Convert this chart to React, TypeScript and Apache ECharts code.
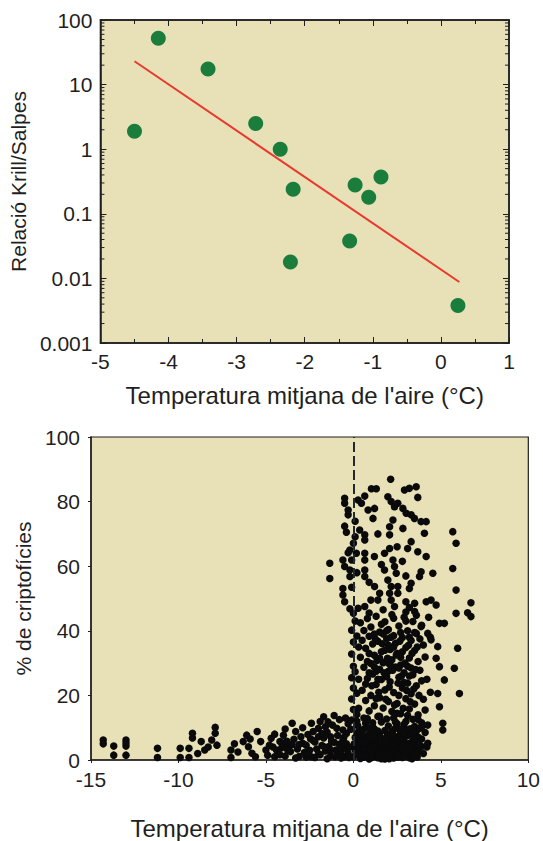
import React, { useEffect, useRef } from "react";
import * as echarts from "echarts";

// ---------- Top chart: krill / salps ratio vs mean air temperature ----------
const krillTemps = [-4.5, -4.15, -3.42, -2.72, -2.36, -2.17, -2.21, -1.34, -1.26, -1.06, -0.88, 0.25];
const krillRatios = [1.9, 52, 17.5, 2.5, 1.0, 0.24, 0.018, 0.038, 0.28, 0.18, 0.37, 0.0038];
const fitTemps = [-4.5, 0.27];
const fitRatios = [23, 0.0088];
const topXTicks = [-5, -4, -3, -2, -1, 0, 1];
const topYTicks = ["0.001", "0.01", "0.1", "1", "10", "100"];
const logMinorMultipliers = [2, 3, 4, 5, 6, 7, 8, 9];
const logDecades = [0.001, 0.01, 0.1, 1, 10];

// ---------- Bottom chart: % cryptophytes vs mean air temperature ----------
const coldTail = [
  [-14.3, 6.2], [-14.3, 5.0], [-13.7, 4.3], [-13.7, 1.5], [-13.0, 6.2], [-13.0, 4.3], [-13.0, 1.5], [-13.0, 5.3],
  [-11.2, 3.6], [-11.2, 0.8], [-9.9, 3.6], [-9.9, 0.8], [-9.4, 3.6], [-9.4, 0.8], [-9.2, 8.3], [-9.2, 6.8],
  [-8.7, 5.7], [-8.5, 3.1], [-8.1, 6.2], [-7.9, 10.1], [-7.9, 8.3], [-7.8, 4.6], [-7.0, 3.1], [-7.0, 0.8],
  [-6.3, 5.7], [-6.1, 7.7], [-6.0, 4.1], [-5.8, 2.1], [-5.5, 8.8], [-5.3, 5.7], [-5.0, 3.1], [-8.9, 2.0],
  [-8.3, 4.0], [-6.6, 2.5], [-6.8, 5.0], [-5.6, 1.0], [-5.9, 6.5],
];
const subzeroBand = [
  [-4.7, 6.7], [-4.4, 3.1], [-4.2, 5.7], [-4.0, 7.7], [-3.7, 4.1], [-3.5, 11.4], [-3.3, 8.8], [-3.0, 7.2],
  [-2.7, 4.6], [-2.4, 11.4], [-2.3, 8.8], [-2.0, 7.2], [-1.7, 13.4], [-1.6, 10.3], [-1.3, 7.2],
  [-4.9, 1.5], [-4.6, 4.0], [-4.5, 1.0], [-4.3, 2.2], [-4.1, 3.8], [-3.9, 1.2], [-3.8, 5.8], [-3.6, 2.6],
  [-3.4, 6.4], [-3.2, 3.4], [-3.1, 1.1], [-2.9, 5.2], [-2.8, 2.3], [-2.6, 7.9], [-2.5, 3.0], [-2.4, 1.0],
  [-2.2, 5.6], [-2.1, 3.4], [-2.0, 9.8], [-1.9, 1.6], [-1.8, 4.5], [-1.7, 6.8], [-1.6, 2.8], [-1.5, 8.6],
  [-1.4, 4.2], [-1.3, 1.3], [-1.2, 10.8], [-1.1, 5.5], [-1.0, 3.1], [-0.9, 7.6], [-0.9, 1.8], [-0.8, 12.5],
  [-0.8, 4.9], [-0.7, 2.6], [-0.6, 9.3], [-0.6, 6.1], [-0.5, 3.7], [-0.5, 1.0], [-0.4, 8.2], [-0.4, 5.0],
  [-0.3, 2.1], [-0.3, 11.2], [-3.9, 9.6], [-4.5, 8.0], [-2.9, 10.0], [-2.3, 6.0], [-1.9, 11.9], [-1.1, 13.8],
  [-3.3, 0.6], [-2.7, 0.9], [-1.5, 0.4], [-0.7, 0.6], [-4.8, 4.6], [-1.3, 3.0], [-2.0, 2.0],
];
const subzeroExtra = [
  [-4.2, 1.6], [-3.75, 3.0], [-3.1, 4.8], [-2.6, 2.0], [-2.2, 0.8], [-1.8, 8.2], [-1.25, 5.8], [-0.95, 9.8],
  [-0.55, 7.0], [-0.2, 4.0], [-0.15, 9.5], [-0.25, 0.8], [-1.65, 4.0], [-2.45, 6.6], [-3.5, 4.8], [-4.0, 5.2],
  [-0.75, 3.8], [-1.05, 1.0], [-1.45, 11.8], [-0.45, 13.0],
];
const thawBand = [
  [0.0, 1.0], [0.1, 3.2], [0.2, 5.6], [0.2, 8.4], [0.3, 1.8], [0.4, 4.3], [0.4, 0.5], [0.5, 6.9], [0.5, 2.7],
  [0.6, 9.5], [0.6, 0.9], [0.7, 4.8], [0.7, 3.0], [0.8, 7.6], [0.8, 1.4], [0.9, 5.5], [0.9, 0.3], [1.0, 2.6],
  [1.0, 8.8], [1.1, 4.1], [1.1, 6.3], [1.2, 1.2], [1.2, 9.6], [1.3, 3.5], [1.3, 7.1], [1.4, 0.7], [1.4, 5.2],
  [1.5, 2.3], [1.5, 8.2], [1.6, 4.4], [1.6, 0.4], [1.7, 6.6], [1.7, 1.9], [1.8, 3.8], [1.8, 9.1], [1.9, 5.7],
  [1.9, 0.9], [2.0, 2.8], [2.0, 7.4], [2.1, 4.6], [2.1, 1.3], [2.2, 8.8], [2.2, 3.3], [2.3, 6.1], [2.3, 0.6],
  [2.4, 2.2], [2.4, 9.8], [2.5, 4.9], [2.5, 7.2], [2.6, 1.6], [2.6, 3.8], [2.7, 5.8], [2.7, 8.5], [2.8, 0.8],
  [2.8, 2.9], [2.9, 6.7], [2.9, 4.3], [3.0, 1.9], [3.0, 9.4], [3.1, 3.1], [3.1, 7.6], [3.2, 5.2], [3.2, 0.7],
  [3.3, 2.4], [3.3, 8.3], [3.4, 4.0], [3.4, 6.2], [3.5, 1.4], [3.5, 3.5], [3.6, 5.4], [3.6, 9.0], [3.7, 2.6],
  [3.7, 7.1], [0.3, 6.4], [0.6, 3.6], [0.9, 1.8], [1.2, 6.8], [1.5, 3.0], [1.8, 1.2], [2.1, 6.0], [2.4, 4.0],
  [2.7, 2.0], [3.0, 5.0], [3.3, 3.2], [0.1, 7.0], [0.4, 9.2], [1.0, 4.8], [1.4, 9.0], [2.0, 5.0], [2.6, 6.8],
  [3.4, 1.0], [3.9, 4.2], [3.9, 6.5], [4.0, 2.0],
];
const thawExtra = [
  [0.15, 2.1], [0.35, 4.9], [0.55, 1.2], [0.75, 6.0], [0.95, 3.4], [1.15, 8.0], [1.35, 2.0], [1.55, 5.9],
  [1.75, 4.2], [1.95, 7.9], [2.15, 2.4], [2.35, 5.2], [2.55, 0.9], [2.75, 3.6], [2.95, 8.9], [3.15, 4.6],
  [3.35, 0.4], [3.55, 6.8], [3.75, 4.8], [0.25, 10.6], [0.7, 11.4], [1.1, 10.2], [1.6, 11.8], [2.0, 10.5],
  [2.5, 11.2], [3.0, 11.9], [3.5, 10.4], [3.8, 9.8], [0.05, 5.0], [0.45, 7.8], [0.85, 9.9], [1.25, 4.6],
  [1.65, 2.9], [2.05, 0.4], [2.45, 6.6], [2.85, 5.1], [3.25, 9.7], [3.65, 0.9], [1.45, 1.5], [2.25, 8.0],
  [3.05, 2.7], [0.65, 5.2], [1.85, 6.3], [2.65, 9.6], [3.45, 8.6], [0.3, 3.8], [1.05, 0.8], [1.8, 0.3],
  [2.9, 1.2], [3.6, 2.0], [4.1, 8.5], [4.2, 4.0], [3.95, 10.5], [0.8, 12.8], [1.5, 13.5], [2.3, 13.0],
  [3.1, 13.8], [3.7, 12.5], [0.2, 12.0],
];
const zeroColumn = [
  [-0.5, 81.0], [-0.5, 79.5], [-0.3, 77.4], [-0.3, 75.9], [-0.5, 72.4], [0.1, 69.1], [0.0, 67.1], [-0.1, 61.9],
  [-0.2, 58.8], [-0.2, 56.8], [-0.6, 61.9], [-0.5, 59.9], [-1.35, 60.9], [-1.35, 56.2], [-0.6, 53.1], [-0.6, 51.1],
  [-0.5, 49.0], [0.0, 45.4], [-0.1, 40.2], [0.0, 36.5], [-0.1, 32.8], [0.0, 29.0], [-0.1, 25.5], [0.0, 22.3],
  [-0.1, 18.9], [0.0, 15.6], [-0.1, 12.4], [0.1, 43.0], [0.2, 38.4], [0.1, 27.3], [0.2, 20.7], [0.2, 14.1],
  [-0.2, 65.0], [-0.4, 70.5], [0.1, 73.9], [-0.2, 46.8], [-0.1, 53.5], [0.2, 58.0], [-0.3, 64.2],
];
const midCloud = [
  [0.4, 42.5], [0.6, 40.1], [0.8, 43.8], [1.0, 41.2], [1.3, 44.5], [1.5, 39.6], [1.8, 42.8], [2.0, 40.4],
  [2.3, 43.9], [2.6, 41.5], [2.9, 44.2], [3.1, 40.0], [3.4, 42.9], [3.6, 39.2], [3.9, 41.7], [0.5, 37.1],
  [0.7, 34.6], [0.9, 38.3], [1.1, 35.9], [1.2, 32.4], [1.4, 36.8], [1.6, 33.5], [1.7, 30.1], [1.9, 37.5],
  [2.1, 34.2], [2.2, 31.0], [2.4, 36.1], [2.5, 33.0], [2.7, 29.4], [2.8, 37.9], [3.0, 34.8], [3.2, 31.6],
  [3.3, 37.0], [3.5, 33.9], [3.7, 30.5], [4.0, 35.6], [4.1, 31.9], [0.4, 31.8], [0.6, 28.7], [0.8, 25.2],
  [1.0, 29.9], [1.1, 26.6], [1.3, 23.4], [1.5, 28.1], [1.6, 24.9], [1.8, 21.7], [2.0, 27.5], [2.1, 24.2],
  [2.3, 20.9], [2.4, 28.8], [2.6, 25.6], [2.8, 22.3], [2.9, 27.0], [3.1, 23.8], [3.3, 20.5], [3.4, 26.4],
  [3.6, 23.0], [3.8, 27.8], [3.9, 24.5], [0.5, 21.6], [0.7, 18.4], [0.9, 15.2], [1.0, 20.0], [1.2, 16.8],
  [1.4, 13.5], [1.5, 19.3], [1.7, 16.1], [1.9, 12.7], [2.0, 18.1], [2.2, 15.0], [2.4, 11.8], [2.5, 17.5],
  [2.7, 14.3], [2.9, 11.1], [3.0, 19.0], [3.2, 15.8], [3.4, 12.6], [3.5, 17.3], [3.7, 14.0], [3.9, 11.5],
  [4.0, 18.8], [0.3, 16.0], [0.3, 25.0], [0.3, 35.0], [0.8, 30.5], [1.3, 27.5], [1.8, 34.0], [2.3, 38.5],
  [2.8, 33.5], [3.3, 28.5], [3.8, 37.5], [1.2, 39.0], [2.0, 30.0], [2.6, 20.0], [3.2, 26.0], [1.6, 42.0],
  [2.2, 45.0], [3.0, 43.0], [4.3, 44.2], [4.4, 38.0], [4.2, 25.0], [4.4, 21.0], [4.1, 15.5], [0.6, 13.0],
  [1.1, 11.5], [3.6, 44.8], [0.9, 45.5], [1.9, 25.8], [2.7, 31.8],
];
const midExtra = [
  [0.9, 33.0], [1.05, 23.0], [1.25, 37.5], [1.35, 30.8], [1.45, 21.0], [1.65, 36.0], [1.75, 27.0], [1.85, 18.8],
  [1.95, 31.5], [2.05, 22.6], [2.15, 38.0], [2.25, 27.8], [2.35, 17.0], [2.45, 32.5], [2.55, 23.8], [2.65, 36.8],
  [2.75, 26.0], [2.85, 16.0], [2.95, 30.0], [3.05, 21.5], [3.15, 35.5], [3.25, 18.0], [3.35, 33.0], [3.45, 22.0],
  [3.55, 28.0], [3.65, 35.0], [3.75, 20.0], [1.5, 31.5], [1.2, 28.8], [2.3, 35.0], [2.7, 39.5], [1.9, 40.0],
  [2.5, 14.5], [1.3, 19.0], [3.1, 29.0], [0.7, 23.5], [0.9, 27.0], [1.7, 39.0], [2.1, 29.5], [2.9, 24.0],
  [3.5, 39.5], [1.4, 25.0], [2.0, 35.5], [2.6, 28.5], [3.2, 38.0],
];
const upperCloud = [
  [2.13, 86.9], [1.03, 84.0], [1.31, 84.0], [0.65, 81.7], [0.27, 80.5], [0.46, 79.5], [0.84, 77.4], [1.12, 74.8],
  [1.21, 77.9], [1.97, 81.5], [2.16, 80.0], [2.35, 78.4], [2.54, 79.5], [2.83, 77.9], [2.92, 83.6], [3.2, 84.1],
  [3.59, 84.6], [3.68, 81.3], [3.02, 76.4], [3.3, 75.9], [3.49, 74.8], [3.87, 73.8], [4.16, 73.8], [2.07, 72.2],
  [2.07, 69.7], [2.26, 74.3], [2.83, 71.7], [4.06, 70.2], [3.3, 67.6], [0.36, 71.2], [0.65, 69.7], [0.65, 68.1],
  [2.07, 65.5], [1.78, 64.0], [3.68, 64.5], [4.16, 63.0], [0.65, 64.0], [0.65, 61.9], [0.65, 58.8], [0.65, 56.8],
  [0.17, 64.0], [2.26, 61.9], [2.35, 59.9], [2.45, 57.8], [1.78, 58.8], [1.97, 55.7], [2.16, 53.7], [2.54, 53.7],
  [2.54, 51.6], [1.21, 53.7], [1.5, 51.6], [1.4, 49.5], [0.27, 47.0], [0.65, 47.5], [2.07, 51.6], [2.16, 49.5],
  [2.35, 47.5], [3.87, 58.3], [3.78, 56.8], [3.3, 54.7], [3.2, 53.1], [4.54, 57.8], [4.73, 48.0], [4.44, 49.5],
  [4.16, 49.0], [3.0, 49.0], [3.2, 47.2], [3.5, 48.5], [3.0, 45.8], [3.5, 46.0], [1.0, 49.5], [1.7, 46.5],
  [2.8, 61.5], [3.0, 57.0], [1.4, 70.0], [1.6, 60.5], [0.9, 55.0], [2.5, 66.0], [3.1, 65.5], [1.2, 63.0],
];
const warmOutliers = [
  [5.68, 70.7], [5.87, 67.1], [5.68, 59.3], [5.87, 52.6], [6.72, 48.7], [6.72, 44.4], [6.53, 45.6], [5.87, 45.4],
  [5.96, 34.6], [5.77, 28.4], [6.06, 20.6], [4.92, 42.3], [5.2, 42.3], [3.87, 41.3], [4.25, 39.2], [4.44, 37.2],
  [4.82, 35.1], [4.73, 31.5], [4.92, 28.9], [5.2, 24.8], [4.82, 20.6], [4.92, 16.5], [5.11, 11.4], [5.11, 9.3],
  [4.25, 5.2], [4.25, 10.8],
];
const bottomXTicks = [-15, -10, -5, 0, 5, 10];
const bottomYTicks = [0, 20, 40, 60, 80, 100];

const FONT = "'Liberation Sans', Arial, Helvetica, sans-serif";
const BG = "#e8e1b8";
const INK = "#1f1f1f";

export default function App() {
  const ref = useRef<HTMLDivElement>(null);

  useEffect(() => {
    document.body.style.margin = "0";
    const chart = echarts.init(ref.current!, null, { renderer: "svg" });

    const krillData = krillTemps.map((t, i) => [t, krillRatios[i]]);
    const fitData = fitTemps.map((t, i) => [t, fitRatios[i]]);
    const minorLogTicks: number[] = [];
    logDecades.forEach((d) => logMinorMultipliers.forEach((m) => minorLogTicks.push(+(d * m).toPrecision(3))));
    const cryptoData = [
      ...coldTail, ...subzeroBand, ...subzeroExtra, ...thawBand, ...thawExtra,
      ...zeroColumn, ...midCloud, ...midExtra, ...upperCloud, ...warmOutliers,
    ];

    const labelStyle = { fontSize: 21, color: INK, fontFamily: FONT };
    const xNameStyle = { fontSize: 24, color: INK, fontFamily: FONT };
    const yNameStyle = { fontSize: 21, color: INK, fontFamily: FONT };

    chart.setOption({
      animation: false,
      backgroundColor: "#ffffff",
      grid: [
        { left: 87, top: 20, width: 422, height: 323, show: true, backgroundColor: BG, borderColor: INK, borderWidth: 1.5 },
        { left: 91, top: 437, width: 439, height: 323, show: true, backgroundColor: BG, borderColor: INK, borderWidth: 1.2 },
      ],
      xAxis: [
        {
          gridIndex: 0, type: "value", min: topXTicks[0], max: topXTicks[topXTicks.length - 1], interval: 1,
          position: "bottom",
          axisLine: { show: true, onZero: false, lineStyle: { color: INK, width: 1.5 } },
          axisTick: { show: true, inside: true, length: 6, lineStyle: { color: INK } },
          minorTick: { show: true, splitNumber: 2, length: 4, lineStyle: { color: INK } },
          axisLabel: { ...labelStyle, margin: 8 },
          splitLine: { show: false },
          name: "Temperatura mitjana de l'aire (°C)", nameLocation: "middle", nameGap: 40, nameTextStyle: xNameStyle,
        },
        {
          gridIndex: 0, type: "value", min: -5, max: 1, interval: 1, position: "top",
          axisLine: { show: true, onZero: false, lineStyle: { color: INK, width: 1.5 } },
          axisTick: { show: true, inside: true, length: 6, lineStyle: { color: INK } },
          minorTick: { show: true, splitNumber: 2, length: 4, lineStyle: { color: INK } },
          axisLabel: { show: false }, splitLine: { show: false },
        },
        {
          gridIndex: 1, type: "value", min: bottomXTicks[0], max: bottomXTicks[bottomXTicks.length - 1], interval: 5,
          axisLine: { show: true, onZero: false, lineStyle: { color: INK, width: 1.5 } },
          axisTick: { show: true, length: 3, lineStyle: { color: INK } },
          axisLabel: { ...labelStyle, margin: 9 },
          splitLine: { show: false },
          name: "Temperatura mitjana de l'aire (°C)", nameLocation: "middle", nameGap: 56, nameTextStyle: xNameStyle,
        },
      ],
      yAxis: [
        {
          gridIndex: 0, type: "log", logBase: 10, min: 0.001, max: 100, position: "left",
          axisLine: { show: true, onZero: false, lineStyle: { color: INK, width: 1.5 } },
          axisTick: { show: true, inside: true, length: 6, lineStyle: { color: INK } },
          axisLabel: {
            ...labelStyle, margin: 8,
            formatter: (v: number) => {
              const s = String(+v.toPrecision(3));
              return topYTicks.includes(s) ? s : "";
            },
          },
          splitLine: { show: false },
          name: "Relació Krill/Salpes", nameLocation: "middle", nameGap: 60, nameTextStyle: yNameStyle,
        },
        {
          gridIndex: 0, type: "log", logBase: 10, min: 0.001, max: 100, position: "right",
          axisLine: { show: true, onZero: false, lineStyle: { color: INK, width: 1.5 } },
          axisTick: { show: true, inside: true, length: 6, lineStyle: { color: INK } },
          axisLabel: { show: false }, splitLine: { show: false },
        },
        {
          gridIndex: 1, type: "value", min: bottomYTicks[0], max: bottomYTicks[bottomYTicks.length - 1], interval: 20,
          axisLine: { show: true, onZero: false, lineStyle: { color: INK, width: 1.5 } },
          axisTick: { show: true, length: 3, lineStyle: { color: INK } },
          axisLabel: { ...labelStyle, margin: 11 },
          splitLine: { show: false },
          name: "% de criptofícies", nameLocation: "middle", nameGap: 54, nameTextStyle: yNameStyle,
        },
      ],
      series: [
        {
          type: "custom", xAxisIndex: 0, yAxisIndex: 0, silent: true, clip: false,
          data: minorLogTicks,
          renderItem: (_p: any, api: any) => {
            const v = api.value(0);
            const l = api.coord([-5, v]);
            const r = api.coord([1, v]);
            return {
              type: "group",
              children: [
                { type: "line", shape: { x1: l[0], y1: l[1], x2: l[0] + 4, y2: l[1] }, style: { stroke: INK, lineWidth: 1 } },
                { type: "line", shape: { x1: r[0], y1: r[1], x2: r[0] - 4, y2: r[1] }, style: { stroke: INK, lineWidth: 1 } },
              ],
            };
          },
          encode: { y: 0 },
        },
        {
          type: "line", xAxisIndex: 0, yAxisIndex: 0, data: fitData, symbol: "none",
          lineStyle: { color: "#e8392e", width: 2 },
        },
        {
          type: "scatter", xAxisIndex: 0, yAxisIndex: 0, data: krillData, symbolSize: 15,
          itemStyle: { color: "#1b7d3c", opacity: 1 },
        },
        {
          type: "scatter", xAxisIndex: 2, yAxisIndex: 2, data: cryptoData, symbolSize: 7.5,
          itemStyle: { color: "#0a0a0a", opacity: 1 },
          markLine: {
            silent: true, symbol: "none", label: { show: false },
            lineStyle: { color: "#1e2a30", width: 2, type: [10, 4] },
            data: [{ xAxis: 0 }],
          },
        },
      ],
    });

    return () => chart.dispose();
  }, []);

  return <div ref={ref} style={{ width: 543, height: 841 }} />;
}
